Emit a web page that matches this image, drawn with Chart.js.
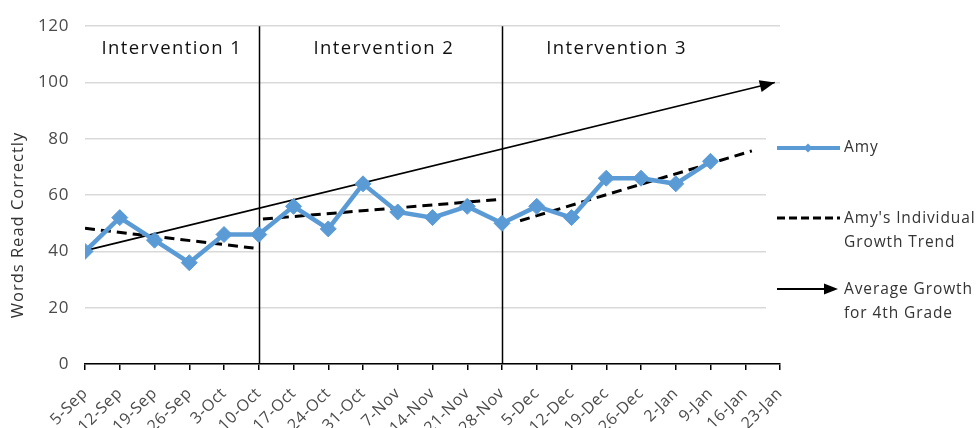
<!DOCTYPE html>
<html>
<head>
<meta charset="utf-8">
<script src="https://cdn.jsdelivr.net/npm/chart.js@4/dist/chart.umd.min.js"></script>
<style>
  html, body { margin: 0; padding: 0; background: #fff; }
  #wrap { width: 980px; height: 428px; position: relative; }
</style>
</head>
<body>
<div id="wrap"><canvas id="c"></canvas></div>
<script>
// Weekly probe dates (x axis categories)
const weeks = ['5-Sep','12-Sep','19-Sep','26-Sep','3-Oct','10-Oct','17-Oct','24-Oct','31-Oct','7-Nov',
  '14-Nov','21-Nov','28-Nov','5-Dec','12-Dec','19-Dec','26-Dec','2-Jan','9-Jan','16-Jan','23-Jan'];

// Amy's words read correctly, one score per week
const amyScores = [40, 52, 44, 36, 46, 46, 56, 48, 64, 54, 52, 56, 50, 56, 52, 66, 66, 64, 72];

// Individual growth trend for each intervention phase (x = week position)
const trendPhase1 = [{ x: 0, y: 48.2 }, { x: 4.85, y: 41.2 }];
const trendPhase2 = [{ x: 5.12, y: 51.5 }, { x: 11.86, y: 58.4 }];
const trendPhase3 = [{ x: 12.52, y: 50.9 }, { x: 19.19, y: 75.7 }];

// Average growth for 4th grade (arrow)
const gradeAverage = [{ x: 0.15, y: 40.7 }, { x: 19.85, y: 100 }];

// Phase boundaries and names
const phaseStarts = ['10-Oct', '28-Nov'];
const phaseNames = ['Intervention 1', 'Intervention 2', 'Intervention 3'];
const phaseLabelAt = [2.5, 8.6, 15.3];
const phaseLabelValue = 112;

// Value axis ticks
const yTicks = [0, 20, 40, 60, 80, 100, 120];

const FONT = "'Open Sans', sans-serif";
const BLUE = '#5b9bd5';
const TICK_GREY = '#4a4a4a';

Chart.defaults.font.family = FONT;

const spacingPlugin = {
  id: 'spacing',
  beforeUpdate(chart) { chart.ctx.letterSpacing = '0.6px'; },
  beforeDraw(chart) { chart.ctx.letterSpacing = '0.6px'; }
};

function arrowHead(ctx, x, y, angle, len, half) {
  ctx.save();
  ctx.translate(x, y);
  ctx.rotate(angle);
  ctx.beginPath();
  ctx.moveTo(0, 0);
  ctx.lineTo(-len, -half);
  ctx.lineTo(-len, half);
  ctx.closePath();
  ctx.fill();
  ctx.restore();
}

const phasePlugin = {
  id: 'phases',
  beforeDatasetsDraw(chart) {
    const { ctx, chartArea, scales } = chart;
    ctx.save();
    // legend panel background
    ctx.fillStyle = '#fff';
    ctx.fillRect(766, 100, 214, 240);
    // phase change lines
    ctx.strokeStyle = '#000';
    ctx.lineWidth = 1.5;
    phaseStarts.forEach(lbl => {
      const x = Math.round(scales.x.getPixelForValue(weeks.indexOf(lbl))) + 0.5;
      ctx.beginPath();
      ctx.moveTo(x, chartArea.top);
      ctx.lineTo(x, chartArea.bottom);
      ctx.stroke();
    });
    // phase names
    ctx.fillStyle = '#111';
    ctx.font = `18.5px ${FONT}`;
    ctx.letterSpacing = '1.4px';
    ctx.textAlign = 'center';
    ctx.textBaseline = 'middle';
    const yl = scales.y.getPixelForValue(phaseLabelValue);
    phaseNames.forEach((name, i) => {
      ctx.fillText(name, scales.x.getPixelForValue(phaseLabelAt[i]), yl);
    });
    ctx.restore();
  },
  afterDatasetsDraw(chart) {
    const { ctx } = chart;
    // arrow tip on the grade average line
    const meta = chart.getDatasetMeta(4);
    const p0 = meta.data[0], p1 = meta.data[1];
    ctx.save();
    ctx.fillStyle = '#000';
    arrowHead(ctx, p1.x, p1.y, Math.atan2(p1.y - p0.y, p1.x - p0.x), 15, 6);

    // y axis title
    ctx.fillStyle = '#333';
    ctx.font = `16.5px ${FONT}`;
    ctx.letterSpacing = '1px';
    ctx.textAlign = 'center';
    ctx.textBaseline = 'middle';
    ctx.translate(18, 225);
    ctx.rotate(-Math.PI / 2);
    ctx.fillText('Words Read Correctly', 0, 0);
    ctx.restore();

    // legend
    ctx.save();
    ctx.font = `15.5px ${FONT}`;
    ctx.letterSpacing = '0.9px';
    ctx.textAlign = 'left';
    ctx.textBaseline = 'middle';
    const tx = 844;
    // Amy
    ctx.strokeStyle = BLUE;
    ctx.lineWidth = 4;
    ctx.beginPath(); ctx.moveTo(777, 148); ctx.lineTo(840, 148); ctx.stroke();
    ctx.fillStyle = BLUE;
    ctx.beginPath();
    ctx.moveTo(808, 143.5); ctx.lineTo(812.5, 148); ctx.lineTo(808, 152.5); ctx.lineTo(803.5, 148);
    ctx.closePath(); ctx.fill();
    ctx.fillStyle = '#333';
    ctx.fillText('Amy', tx, 148);
    // individual trend
    ctx.strokeStyle = '#000';
    ctx.lineWidth = 3;
    ctx.setLineDash([8, 4]);
    ctx.beginPath(); ctx.moveTo(777, 218); ctx.lineTo(840, 218); ctx.stroke();
    ctx.setLineDash([]);
    ctx.fillText("Amy's Individual", tx, 219);
    ctx.fillText('Growth Trend', tx, 243);
    // grade average
    ctx.lineWidth = 2;
    ctx.beginPath(); ctx.moveTo(777, 289); ctx.lineTo(826, 289); ctx.stroke();
    ctx.fillStyle = '#000';
    arrowHead(ctx, 838, 289, 0, 14, 5.5);
    ctx.fillStyle = '#333';
    ctx.fillText('Average Growth', tx, 290);
    ctx.fillText('for 4th Grade', tx, 314);
    ctx.restore();
  }
};

const dashed = { borderColor: '#000', borderWidth: 3, borderDash: [10, 6], pointRadius: 0, fill: false };

new Chart(document.getElementById('c'), {
  type: 'line',
  data: {
    datasets: [
      {
        label: 'Amy',
        data: amyScores.map((v, i) => ({ x: i, y: v })),
        borderColor: BLUE,
        backgroundColor: BLUE,
        borderWidth: 4.5,
        pointStyle: 'rectRot',
        pointRadius: 8,
        pointBorderWidth: 1,
        pointBackgroundColor: BLUE,
        pointBorderColor: BLUE,
        tension: 0
      },
      { label: "Amy's Individual Growth Trend", data: trendPhase1, ...dashed },
      { label: 'trend 2', data: trendPhase2, ...dashed },
      { label: 'trend 3', data: trendPhase3, ...dashed },
      {
        label: 'Average Growth for 4th Grade',
        data: gradeAverage,
        borderColor: '#000',
        borderWidth: 1.7,
        pointRadius: 0,
        fill: false
      }
    ]
  },
  options: {
    responsive: true,
    maintainAspectRatio: false,
    animation: false,
    layout: { padding: { left: 0, top: 22, right: 200, bottom: 0 } },
    plugins: { legend: { display: false }, tooltip: { enabled: false } },
    scales: {
      x: {
        type: 'linear',
        min: 0,
        max: weeks.length - 1,
        afterBuildTicks: s => { s.ticks = weeks.map((_, i) => ({ value: i })); },
        afterFit: s => { s.height = 64; },
        ticks: {
          autoSkip: false,
          maxRotation: 45,
          minRotation: 45,
          padding: 14,
          color: TICK_GREY,
          font: { size: 16 },
          callback: v => weeks[v]
        },
        grid: { drawOnChartArea: false, drawTicks: true, tickLength: 6, color: '#000', lineWidth: 1.5 },
        border: { color: '#000', width: 1.5 }
      },
      y: {
        min: 0,
        max: 120,
        afterBuildTicks: s => { s.ticks = yTicks.map(v => ({ value: v })); },
        afterFit: s => { s.width = 85; },
        ticks: { color: TICK_GREY, font: { size: 17 }, padding: 16 },
        grid: { color: '#d9d9d9', lineWidth: 1.5, drawTicks: false },
        border: { display: false }
      }
    }
  },
  plugins: [spacingPlugin, phasePlugin]
});
</script>
</body>
</html>
